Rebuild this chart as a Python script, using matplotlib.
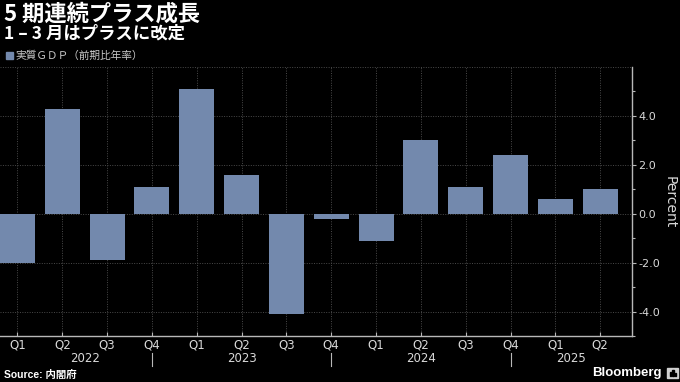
import matplotlib
matplotlib.use("Agg")
import matplotlib.pyplot as plt
import matplotlib.transforms as mtransforms
import numpy as np

plt.rcParams['axes.unicode_minus'] = False
plt.rcParams['font.family'] = ['Noto Sans CJK JP', 'DejaVu Sans']

# ---- data ----
quarters = ["Q1", "Q2", "Q3", "Q4", "Q1", "Q2", "Q3", "Q4",
            "Q1", "Q2", "Q3", "Q4", "Q1", "Q2"]
years = ["2022", "2023", "2024", "2025"]
gdp = [-2.0, 4.3, -1.9, 1.1, 5.1, 1.6, -4.1, -0.2,
       -1.1, 3.0, 1.1, 2.4, 0.6, 1.0]
yticks = [-4.0, -2.0, 0.0, 2.0, 4.0]

title = "5 期連続プラス成長"
subtitle = "1 – 3 月はプラスに改定"
legend_label = "実質ＧＤＰ（前期比年率）"
source = "Source: 内閣府"

BG = "#000000"
BAR = "#7389ad"
GRID = "#4a4a4a"
AXC = "#b8b8b8"
TXT = "#d9d9d9"
NARROW = ['Liberation Sans Narrow', 'DejaVu Sans']

W, H = 680, 382
fig = plt.figure(figsize=(W / 100, H / 100), dpi=100, facecolor=BG)
ax = fig.add_axes([0 / W, 1 - 336 / H, 632 / W, (336 - 67) / H], facecolor=BG)

x = np.arange(len(gdp))
ax.bar(x, gdp, width=0.78, color=BAR, zorder=3)

ax.set_xlim(-0.39, 13.71)
ax.set_ylim(-5, 6)

# y axis on the right
ax.yaxis.tick_right()
ax.set_yticks(yticks)
ax.set_yticklabels([f"{v:.1f}" for v in yticks])
ax.set_yticks(np.arange(-5, 7, 2), minor=True)
ax.tick_params(axis='y', which='major', direction='out', length=3, width=0.8,
               color=AXC, labelcolor=TXT, labelsize=8, pad=1.5)
ax.tick_params(axis='y', which='minor', direction='out', length=2.5, width=0.8,
               color=AXC)
for lab in ax.get_yticklabels():
    lab.set_family('DejaVu Sans')

# x axis
ax.set_xticks(x)
ax.set_xticklabels(quarters)
ax.tick_params(axis='x', which='major', direction='in', length=3, width=0.8,
               color=AXC, labelcolor=TXT, labelsize=8.5, pad=2)
for lab in ax.get_xticklabels():
    lab.set_family(NARROW)

# grid
for v in list(yticks) + [6.0]:
    ax.axhline(v, color=GRID, lw=0.7, ls=(0, (1, 1.5)), zorder=1)
for xi in x:
    ax.axvline(xi, color=GRID, lw=0.7, ls=(0, (1, 1.5)), zorder=1)

for s in ['top', 'left']:
    ax.spines[s].set_visible(False)
for s in ['right', 'bottom']:
    ax.spines[s].set_color(AXC)
    ax.spines[s].set_linewidth(1.0)

# year separators and labels
trans = mtransforms.blended_transform_factory(ax.transData, fig.transFigure)
q4_idx = [i for i, q in enumerate(quarters) if q == "Q4"]
for i in q4_idx:
    ax.plot([i, i], [1 - 353 / H, 1 - 366 / H], color=AXC, lw=0.8,
            transform=trans, clip_on=False)
bounds = [0] + q4_idx + [ax.get_xlim()[1]]
for k, yr in enumerate(years):
    cx = (bounds[k] + bounds[k + 1]) / 2
    ax.text(cx, 1 - 359 / H, yr, transform=trans, ha='center', va='center',
            color=TXT, fontsize=8.5, family=NARROW)

# Percent label
fig.text(670 / W, 1 - 202 / H, "Percent", rotation=270, ha='center', va='center',
         color=TXT, fontsize=10, family='DejaVu Sans')

# titles
fig.text(4 / W, 1 - 14 / H, title, color='white', fontsize=16, fontweight='bold',
         ha='left', va='center')
fig.text(4 / W, 1 - 33.5 / H, subtitle, color='white', fontsize=12.5, fontweight='bold',
         ha='left', va='center')

# legend
fig.patches.append(plt.Rectangle((6 / W, 1 - 59 / H), 7 / W, 7 / H,
                                 transform=fig.transFigure, color=BAR))
fig.text(15 / W, 1 - 55.5 / H, legend_label, color='#c8c8c8', fontsize=7.7,
         ha='left', va='center')

# source
fig.text(4 / W, 1 - 375 / H, source, color='white', fontsize=7.5,
         fontweight='bold', ha='left', va='center',
         family=['Liberation Sans', 'Noto Sans CJK JP'])

# Bloomberg
fig.text(662 / W, 1 - 373 / H, "Bloomberg", color='white', fontsize=9.5,
         fontweight='bold', ha='right', va='center', family='Liberation Sans')
fig.patches.append(plt.Rectangle((667 / W, 1 - 378 / H), 11 / W, 10 / H,
                                 transform=fig.transFigure, color='#d0d0d0'))
for bx, bh in [(669.5, 4), (672, 6), (674.5, 3)]:
    fig.patches.append(plt.Rectangle((bx / W, 1 - 376 / H), 1.5 / W, bh / H,
                                     transform=fig.transFigure, color='#000000'))

fig.savefig("out.png", dpi=100, facecolor=BG)
